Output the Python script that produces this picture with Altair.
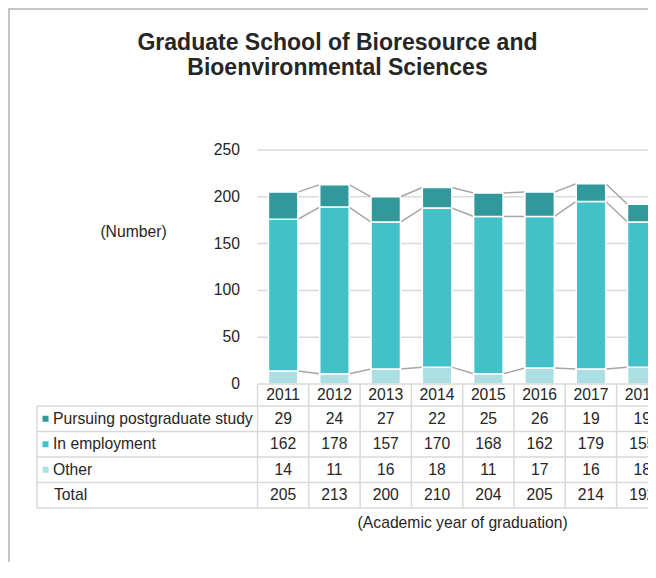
import altair as alt
import pandas as pd

# ---------------- data ----------------
years = ["2011", "2012", "2013", "2014", "2015", "2016", "2017", "2018"]
series_names = ["Pursuing postgraduate study", "In employment", "Other"]
pursuing = [29, 24, 27, 22, 25, 26, 19, 19]
employment = [162, 178, 157, 170, 168, 162, 179, 155]
other = [14, 11, 16, 18, 11, 17, 16, 18]
y_ticks = [0, 50, 100, 150, 200, 250]
title_lines = ["Graduate School of Bioresource and", "Bioenvironmental Sciences"]
y_title = "(Number)"
x_title = "(Academic year of graduation)"
total_label = "Total"

colors = ["#31989b", "#43c1c8", "#acdfe3"]
TEXT = "#262626"
GRID = "#d9d9d9"
FONT = "Liberation Sans"
FS = 15.7

# ---------------- layout (pixels -> scale units) ----------------
W, H = 640, 554
COL0 = 249.5          # left edge of first year column (svg px)
CW = 51.3             # year column width
X_MIN, X_MAX = -COL0 / CW, (W - COL0) / CW
Y0 = 376.0            # svg y of value 0
PPU = 234 / 250       # px per count unit
CNT_DOM = [(Y0 - H) / PPU, Y0 / PPU]
RH = 25.5             # table row height
HDR = 22 / RH         # header row height in row units
TBL_DOM = [-Y0 / RH, (H - Y0) / RH]
HW = 0.287            # half bar width in column units


def px2x(px_window):
    return (px_window - 8 - COL0) / CW


xs = alt.Scale(domain=[X_MIN, X_MAX], nice=False, zero=False)
cs = alt.Scale(domain=CNT_DOM, nice=False, zero=False)
ts = alt.Scale(domain=TBL_DOM, nice=False, zero=False, reverse=True)
color_scale = alt.Scale(domain=series_names, range=colors)


def X(f):
    return alt.X(f, type="quantitative", scale=xs, axis=None)


def X2(f):
    return alt.X2(f)


def YC(f):
    return alt.Y(f, type="quantitative", scale=cs, axis=None)


def YT(f):
    return alt.Y(f, type="quantitative", scale=ts, axis=None)


totals = [a + b + c for a, b, c in zip(pursuing, employment, other)]

# bars (stack bottom-up: Other, In employment, Pursuing)
bar_rows = []
levels = []
for i, yr in enumerate(years):
    cum = 0
    lv = []
    for name, vals in [("Other", other), ("In employment", employment),
                       ("Pursuing postgraduate study", pursuing)]:
        bar_rows.append(dict(year=yr, series=name, x=i + 0.5 - HW, x2=i + 0.5 + HW,
                             y0=cum, y1=cum + vals[i]))
        cum += vals[i]
        lv.append(cum)
    levels.append(lv)
bars_df = pd.DataFrame(bar_rows)

conn_rows = []
for k in range(3):
    for i in range(len(years) - 1):
        conn_rows.append(dict(x=i + 0.5 + HW, x2=i + 1.5 - HW,
                              y=levels[i][k], y2=levels[i + 1][k]))
conn_df = pd.DataFrame(conn_rows)

grid_df = pd.DataFrame(dict(v=y_ticks[1:], x=0.0, x2=X_MAX))
ytick_df = pd.DataFrame(dict(v=y_ticks, t=[str(v) for v in y_ticks], x=px2x(240)))
ytitle_df = pd.DataFrame(dict(t=[y_title], x=[px2x(133.5)], y=[(384 - 232) / PPU]))
title_df = pd.DataFrame(dict(t=title_lines, x=px2x(337.5),
                             y=[(384 - 42.5) / PPU, (384 - 67.5) / PPU]))

# table
n = len(years)
row_edges = [0.0] + [HDR + k for k in range(5)]
hl_df = pd.DataFrame(dict(u=row_edges,
                          x=[0.0] + [px2x(37)] * 5, x2=X_MAX + 1))
vl_rows = [dict(x=float(c), u=0.0, u2=HDR + 4) for c in range(n + 1)]
vl_rows.append(dict(x=px2x(37), u=HDR, u2=HDR + 4))
vl_df = pd.DataFrame(vl_rows)

hdr_df = pd.DataFrame(dict(t=years, x=[i + 0.5 for i in range(n)], u=HDR / 2))
cell_rows = []
for r, vals in enumerate([pursuing, employment, other, totals]):
    for i in range(n):
        cell_rows.append(dict(t=str(vals[i]), x=i + 0.5, u=HDR + r + 0.5))
cell_df = pd.DataFrame(cell_rows)
lab_df = pd.DataFrame(dict(t=series_names + [total_label],
                           x=[px2x(53)] * 3 + [px2x(54)],
                           u=[HDR + r + 0.5 for r in range(4)]))
sq_df = pd.DataFrame(dict(series=series_names, x=px2x(45.5),
                          u=[HDR + r + 0.5 for r in range(3)]))
cap_df = pd.DataFrame(dict(t=[x_title], x=[n / 2], u=[(523 - 384) / RH]))

border_left = pd.DataFrame(dict(x=[X_MIN + 1 / CW], u=[TBL_DOM[0]], u2=[TBL_DOM[1]]))
border_top = pd.DataFrame(dict(x=[X_MIN], x2=[X_MAX], u=[TBL_DOM[0] + 1 / RH]))

txt = dict(font=FONT, fontSize=FS, color=TEXT, baseline="middle")

layers = [
    alt.Chart(grid_df).mark_rule(color=GRID, strokeWidth=1.5).encode(
        x=X("x"), x2=X2("x2"), y=YC("v")),
    alt.Chart(conn_df).mark_rule(color="#a6a6a6", strokeWidth=1.5).encode(
        x=X("x"), x2=X2("x2"), y=YC("y"), y2=alt.Y2("y2")),
    alt.Chart(bars_df).mark_rect(stroke="white", strokeWidth=1.5).encode(
        x=X("x"), x2=X2("x2"), y=YC("y0"), y2=alt.Y2("y1"),
        color=alt.Color("series:N", scale=color_scale, legend=None)),
    alt.Chart(ytick_df).mark_text(align="right", **txt).encode(
        x=X("x"), y=YC("v"), text="t:N"),
    alt.Chart(ytitle_df).mark_text(align="center", **txt).encode(
        x=X("x"), y=YC("y"), text="t:N"),
    alt.Chart(title_df).mark_text(align="center", font=FONT, fontSize=23,
                                  fontWeight="bold", color=TEXT, baseline="middle").encode(
        x=X("x"), y=YC("y"), text="t:N"),
    alt.Chart(hl_df).mark_rule(color=GRID, strokeWidth=1.5).encode(
        x=X("x"), x2=X2("x2"), y=YT("u")),
    alt.Chart(vl_df).mark_rule(color=GRID, strokeWidth=1.5).encode(
        x=X("x"), y=YT("u"), y2=alt.Y2("u2")),
    alt.Chart(hdr_df).mark_text(align="center", **txt).encode(
        x=X("x"), y=YT("u"), text="t:N"),
    alt.Chart(cell_df).mark_text(align="center", **txt).encode(
        x=X("x"), y=YT("u"), text="t:N"),
    alt.Chart(lab_df).mark_text(align="left", **txt).encode(
        x=X("x"), y=YT("u"), text="t:N"),
    alt.Chart(sq_df).mark_square(size=36, opacity=1).encode(
        x=X("x"), y=YT("u"),
        color=alt.Color("series:N", scale=color_scale, legend=None)),
    alt.Chart(cap_df).mark_text(align="center", **txt).encode(
        x=X("x"), y=YT("u"), text="t:N"),
    alt.Chart(border_left).mark_rule(color="#c6c6c6", strokeWidth=2).encode(
        x=X("x"), y=YT("u"), y2=alt.Y2("u2")),
    alt.Chart(border_top).mark_rule(color="#c6c6c6", strokeWidth=2).encode(
        x=X("x"), x2=X2("x2"), y=YT("u")),
]

chart = alt.layer(*layers).resolve_scale(y="independent").properties(
    width=W, height=H,
    autosize=alt.AutoSizeParams(type="none"),
    padding=0,
    background="white",
).configure_view(stroke=None)

chart.save("out.html", embed_options={"renderer": "svg", "actions": False})
